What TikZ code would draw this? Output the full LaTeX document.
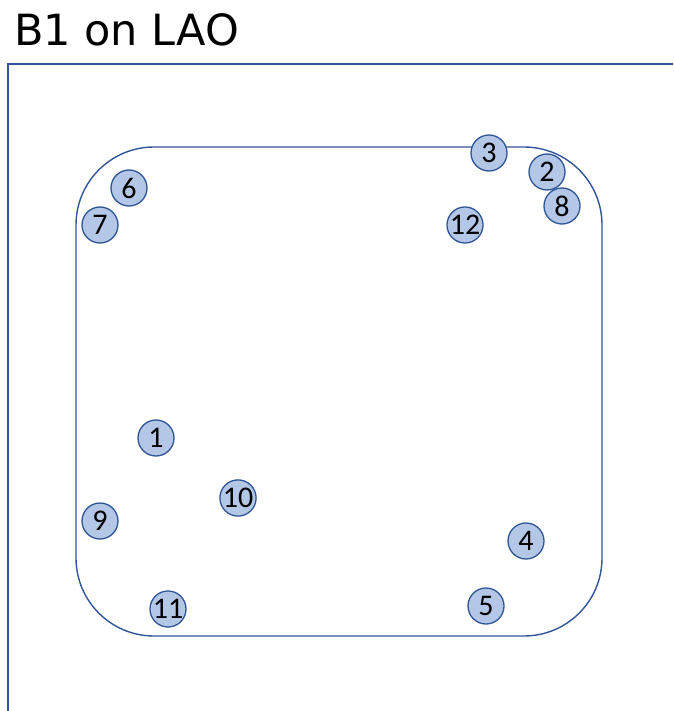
\documentclass[tikz,border=0pt]{standalone}
\usepackage{fontspec}
\setmainfont{DejaVu Sans}
\newfontfamily\digitfont{Carlito}
\definecolor{frameblue}{RGB}{47,85,151}
\definecolor{dotfill}{RGB}{180,199,231}
\definecolor{dotline}{RGB}{47,85,151}
\begin{document}
\begin{tikzpicture}[x=1pt,y=-1pt,
  dot/.style={circle,draw=dotline,fill=dotfill,line width=1.3pt,minimum size=36pt,inner sep=0pt,font=\digitfont\fontsize{30}{30}\selectfont},
  framel/.style={draw=frameblue,line width=1.4pt}]
\useasboundingbox (0,0) rectangle (673,711);
\node[anchor=base west,inner sep=0pt,font=\fontsize{43}{43}\selectfont] (title) at (14,46) {B1 on LAO};
\coordinate (fbl) at (8,711);
\coordinate (ftl) at (8,64);
\coordinate (ftr) at (673,64);
\draw[framel] (fbl) -- (ftl) -- (ftr);
\node[framel,rounded corners=78pt,minimum width=526pt,minimum height=489pt,inner sep=0pt] (chamber) at (339,391.5) {};
\node[dot] (d3) at (489,153) {3};
\node[dot] (d2) at (547,172) {2};
\node[dot] (d8) at (562,206) {8};
\node[dot] (d12) at (465,225) {12};
\node[dot] (d6) at (129,188) {6};
\node[dot] (d7) at (100,225) {7};
\node[dot] (d1) at (156,438) {1};
\node[dot] (d10) at (238,498) {10};
\node[dot] (d9) at (100,521) {9};
\node[dot] (d4) at (526,541) {4};
\node[dot] (d5) at (486,606) {5};
\node[dot] (d11) at (168,609) {11};
\end{tikzpicture}
\end{document}
